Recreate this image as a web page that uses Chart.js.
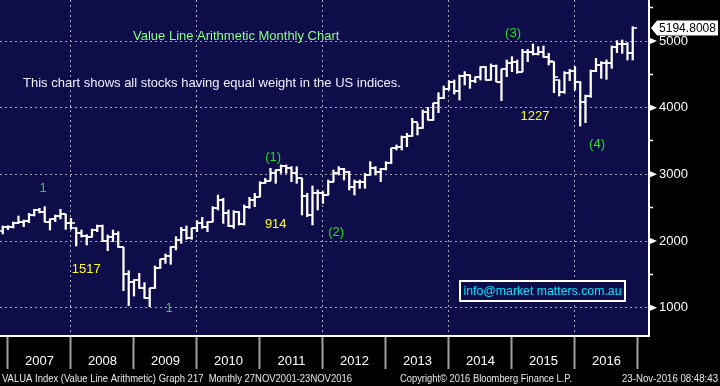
<!DOCTYPE html>
<html>
<head>
<meta charset="utf-8">
<script src="https://cdn.jsdelivr.net/npm/chart.js@4.4.0/dist/chart.umd.min.js"></script>
<style>
  html, body { margin:0; padding:0; background:#000; }
  canvas { display:block; }
</style>
</head>
<body>
<canvas id="valuaChart" width="720" height="386"></canvas>
<script>
// VALUA monthly bars, Nov 2006 .. Nov 2016
var months = [
  '2006-11','2006-12',
  '2007-01','2007-02','2007-03','2007-04','2007-05','2007-06','2007-07','2007-08','2007-09','2007-10','2007-11','2007-12',
  '2008-01','2008-02','2008-03','2008-04','2008-05','2008-06','2008-07','2008-08','2008-09','2008-10','2008-11','2008-12',
  '2009-01','2009-02','2009-03','2009-04','2009-05','2009-06','2009-07','2009-08','2009-09','2009-10','2009-11','2009-12',
  '2010-01','2010-02','2010-03','2010-04','2010-05','2010-06','2010-07','2010-08','2010-09','2010-10','2010-11','2010-12',
  '2011-01','2011-02','2011-03','2011-04','2011-05','2011-06','2011-07','2011-08','2011-09','2011-10','2011-11','2011-12',
  '2012-01','2012-02','2012-03','2012-04','2012-05','2012-06','2012-07','2012-08','2012-09','2012-10','2012-11','2012-12',
  '2013-01','2013-02','2013-03','2013-04','2013-05','2013-06','2013-07','2013-08','2013-09','2013-10','2013-11','2013-12',
  '2014-01','2014-02','2014-03','2014-04','2014-05','2014-06','2014-07','2014-08','2014-09','2014-10','2014-11','2014-12',
  '2015-01','2015-02','2015-03','2015-04','2015-05','2015-06','2015-07','2015-08','2015-09','2015-10','2015-11','2015-12',
  '2016-01','2016-02','2016-03','2016-04','2016-05','2016-06','2016-07','2016-08','2016-09','2016-10','2016-11'
];

var opens = [
  2150,2205,
  2215,2275,2285,2305,2385,2465,2435,2290,2325,2375,2400,2265,
  2190,2115,2070,2065,2165,2225,2005,2055,2105,1905,1505,1380,
  1415,1290,1140,1290,1590,1725,1775,1915,2015,2165,2040,2190,
  2275,2205,2290,2490,2615,2415,2230,2440,2255,2515,2615,2665,
  2875,2905,3015,3065,3125,3090,3015,2940,2675,2390,2715,2715,
  2690,2890,3015,3075,3040,2805,2890,2890,2990,3090,3040,3075,
  3175,3390,3405,3565,3575,3790,3690,3940,3815,4065,4140,4275,
  4390,4255,4475,4490,4405,4455,4605,4415,4625,4390,4575,4665,
  4690,4540,4840,4830,4805,4830,4765,4690,4415,4240,4525,4555,
  4390,4090,4175,4555,4640,4665,4665,4915,4955,4955,4815
];
var highs = [
  2225,2230,
  2285,2375,2315,2415,2475,2490,2515,2330,2390,2475,2400,2340,
  2200,2165,2095,2180,2240,2240,2090,2165,2140,1905,1555,1420,
  1515,1375,1290,1625,1725,1805,1915,2065,2205,2225,2190,2305,
  2355,2290,2515,2690,2640,2465,2455,2440,2540,2655,2715,2890,
  2940,3090,3065,3140,3140,3115,3115,2940,2715,2825,2765,2740,
  2915,3065,3115,3090,3045,2915,2915,3015,3190,3115,3090,3190,
  3390,3440,3575,3615,3840,3765,3965,4005,4065,4225,4325,4405,
  4415,4490,4540,4490,4460,4615,4615,4655,4640,4575,4715,4765,
  4715,4875,4875,4955,4915,4925,4815,4690,4415,4540,4575,4615,
  4390,4190,4565,4740,4690,4715,4925,5005,5015,4975,5215
];
var lows = [
  2105,2170,
  2195,2265,2215,2275,2375,2420,2290,2165,2290,2330,2175,2175,
  1925,2060,1940,2060,2140,1990,1855,1990,1905,1255,1030,1175,
  1290,1140,1015,1290,1590,1665,1650,1865,1965,2025,2025,2140,
  2190,2140,2290,2465,2265,2215,2190,2240,2240,2490,2515,2665,
  2865,2905,2865,3015,3015,2890,2865,2390,2365,2240,2465,2565,
  2690,2890,2990,2915,2765,2690,2790,2790,2990,2990,2890,3065,
  3165,3365,3365,3415,3570,3590,3690,3815,3810,3925,4135,4265,
  4205,4115,4340,4290,4375,4415,4415,4415,4390,4105,4465,4540,
  4515,4540,4690,4790,4790,4755,4640,4225,4175,4215,4405,4265,
  3725,3775,4155,4540,4440,4425,4590,4825,4815,4715,4715
];
var closes = [
  2205,2215,
  2275,2285,2305,2385,2465,2435,2290,2325,2375,2405,2265,2265,
  2115,2070,2065,2165,2225,2005,2055,2105,1905,1505,1380,1415,
  1290,1140,1290,1590,1725,1775,1915,2015,2165,2040,2190,2275,
  2205,2290,2490,2615,2415,2230,2440,2255,2515,2615,2665,2875,
  2905,3015,3065,3125,3090,3015,2940,2675,2390,2715,2715,2690,
  2890,3015,3075,3040,2805,2890,2890,2990,3090,3040,3075,3175,
  3390,3405,3565,3575,3790,3690,3940,3815,4065,4140,4275,4390,
  4255,4475,4490,4405,4455,4605,4415,4625,4390,4575,4665,4690,
  4540,4840,4830,4805,4830,4765,4705,4455,4240,4525,4555,4390,
  4090,4175,4555,4640,4665,4665,4915,4955,4955,4815,5194.8008
];

var yearStarts = [0,12,24,36,48,60,72,84,96,108,120];   // months after Jan 2007
var yearLabels = ['2007','2008','2009','2010','2011','2012','2013','2014','2015','2016'];
var priceTicks = [1000,1500,2000,2500,3000,3500,4000,4500,5000,5500];

// bar for a month sits at the month's end
function monthPos(s) {
  var p = s.split('-');
  return (parseInt(p[0], 10) - 2007) * 12 + parseInt(p[1], 10);
}

var rangeData = [], openData = [], closeData = [];
for (var i = 0; i < months.length; i++) {
  var xv = monthPos(months[i]);
  rangeData.push({x: xv, y: [lows[i], highs[i]]});
  openData.push({x: xv, y: opens[i]});
  closeData.push({x: xv, y: closes[i]});
}

function tickMark(side) {
  var c = document.createElement('canvas');
  c.width = 9; c.height = 2;
  var g = c.getContext('2d');
  g.fillStyle = '#ffffff';
  if (side == 'left') g.fillRect(0, 0.25, 5, 1.5);
  else g.fillRect(4, 0.25, 5, 1.5);
  return c;
}

function noPad(s) {
  s.paddingLeft = 0; s.paddingRight = 0; s.paddingTop = 0; s.paddingBottom = 0;
}

var NAVY = '#0f0c4a';
var FONT = 'Liberation Sans, Arial, sans-serif';

var backdrop = {
  id: 'backdrop',
  beforeDraw: function(chart) {
    var c = chart.ctx, a = chart.chartArea;
    c.save();
    c.fillStyle = '#000';
    c.fillRect(0, 0, chart.width, chart.height);
    c.fillStyle = NAVY;
    c.fillRect(a.left, a.top, a.right - a.left, a.bottom - a.top);
    c.restore();
  }
};

// wave labels, notes, price tag, footer
var notes = [
  {t: '1',    x: 6.7,   y: 2795, c: '#22dd22'},
  {t: '1517', x: 14.9,  y: 1580, c: '#ffff22'},
  {t: '1',    x: 30.7,  y: 995,  c: '#22dd22'},
  {t: '(1)',  x: 50.5,  y: 3260, c: '#22dd22'},
  {t: '914',  x: 51,    y: 2250, c: '#ffff22'},
  {t: '(2)',  x: 62.5,  y: 2130, c: '#22dd22'},
  {t: '(3)',  x: 96.2,  y: 5120, c: '#22dd22'},
  {t: '1227', x: 100.4, y: 3875, c: '#ffff22'},
  {t: '(4)',  x: 112.2, y: 3455, c: '#22dd22'}
];

var overlay = {
  id: 'overlay',
  afterDraw: function(chart) {
    var c = chart.ctx, a = chart.chartArea;
    var xs = chart.scales.x, ys = chart.scales.y;
    c.save();
    c.textBaseline = 'middle';

    c.font = '13px ' + FONT;
    c.textAlign = 'left';
    c.fillStyle = '#88ff88';
    c.fillText('Value Line Arithmetic Monthly Chart', a.left + 133, a.top + 36, 210);
    c.fillStyle = '#f0f0ff';
    c.fillText('This chart shows all stocks having equal weight in the US indices.', a.left + 23, a.top + 83, 381);

    c.textAlign = 'center';
    notes.forEach(function(n) {
      c.fillStyle = n.c;
      c.fillText(n.t, xs.getPixelForValue(n.x), ys.getPixelForValue(n.y));
    });

    // info box
    c.fillStyle = NAVY;
    c.fillRect(460, 281, 165, 20);
    c.strokeStyle = '#fff';
    c.lineWidth = 2;
    c.strokeRect(460, 281, 165, 20);
    c.fillStyle = '#00e5ff';
    c.fillText('info@market matters.com.au', 542.5, 291.5, 158);

    // major tick flags on the price axis
    c.fillStyle = '#fff';
    [1000, 2000, 3000, 4000, 5000].forEach(function(v) {
      var y = ys.getPixelForValue(v);
      c.beginPath();
      c.moveTo(a.right, y - 3.5);
      c.lineTo(a.right + 8, y);
      c.lineTo(a.right, y + 3.5);
      c.closePath();
      c.fill();
    });

    // last price tag
    var last = closes[closes.length - 1];
    var py = ys.getPixelForValue(last);
    c.beginPath();
    c.moveTo(a.right + 2, py);
    c.lineTo(a.right + 8, py - 7.5);
    c.lineTo(718, py - 7.5);
    c.lineTo(718, py + 7.5);
    c.lineTo(a.right + 8, py + 7.5);
    c.closePath();
    c.fill();
    c.fillStyle = '#000';
    c.textAlign = 'left';
    c.fillText(last.toFixed(4), 659, py + 0.5, 57);

    // footer line
    c.font = '11px ' + FONT;
    c.fillStyle = '#e8e8e8';
    c.fillText('VALUA Index (Value Line Arithmetic) Graph 217  Monthly 27NOV2001-23NOV2016', 2, 379, 350);
    c.fillText('Copyright\u00a9 2016 Bloomberg Finance L.P.', 400, 379, 172);
    c.fillText('23-Nov-2016 08:48:43', 622, 379, 96);
    c.restore();
  }
};

var ctx = document.getElementById('valuaChart').getContext('2d');
var chart = new Chart(ctx, {
  type: 'bar',
  data: {
    datasets: [
      {type: 'bar', data: rangeData, backgroundColor: '#ffffff', borderWidth: 0, barThickness: 1.6, order: 3},
      {type: 'line', data: openData, showLine: false, pointStyle: tickMark('left'), pointRadius: 3, order: 1},
      {type: 'line', data: closeData, showLine: false, pointStyle: tickMark('right'), pointRadius: 3, order: 2}
    ]
  },
  options: {
    responsive: false,
    animation: false,
    events: [],
    layout: {padding: 0, autoPadding: false},
    plugins: {legend: {display: false}, tooltip: {enabled: false}, title: {display: false}},
    scales: {
      x: {
        type: 'linear', position: 'bottom', min: -1.52, max: 122.1, offset: false,
        afterBuildTicks: function(s) { s.ticks = yearStarts.map(function(v) { return {value: v}; }); },
        afterFit: function(s) { s.height = 50; noPad(s); },
        grid: {
          offset: false,
          color: function(c) { return (c.tick && c.tick.value % 24 === 12) ? '#a4a4b4' : 'rgba(0,0,0,0)'; },
          lineWidth: 1, tickLength: 33, tickColor: '#a0a0a0', tickWidth: 2, tickBorderDash: []
        },
        border: {display: true, color: '#ffffff', width: 2, dash: [2, 3]},
        ticks: {
          autoSkip: false, maxRotation: 0, minRotation: 0, color: '#ffffff',
          font: {family: FONT, size: 13}, padding: -15, labelOffset: 31.5,
          callback: function(v) { var k = yearStarts.indexOf(v); return yearLabels[k] || ''; }
        }
      },
      y: {
        type: 'linear', position: 'right', min: 575, max: 5615,
        afterBuildTicks: function(s) { s.ticks = priceTicks.map(function(v) { return {value: v}; }); },
        afterFit: function(s) { s.width = 71; noPad(s); },
        grid: {
          color: function(c) { return (c.tick && c.tick.value % 1000 === 0) ? '#a4a4b4' : 'rgba(0,0,0,0)'; },
          lineWidth: 1, tickLength: 4, tickColor: '#ffffff', tickWidth: 1.5, tickBorderDash: []
        },
        border: {display: true, color: '#ffffff', width: 2, dash: [2, 3]},
        ticks: {
          color: '#ffffff', font: {family: FONT, size: 13}, padding: 6,
          callback: function(v) { return v % 1000 === 0 ? String(v) : ''; }
        }
      }
    }
  },
  plugins: [backdrop, overlay]
});
</script>
</body>
</html>
